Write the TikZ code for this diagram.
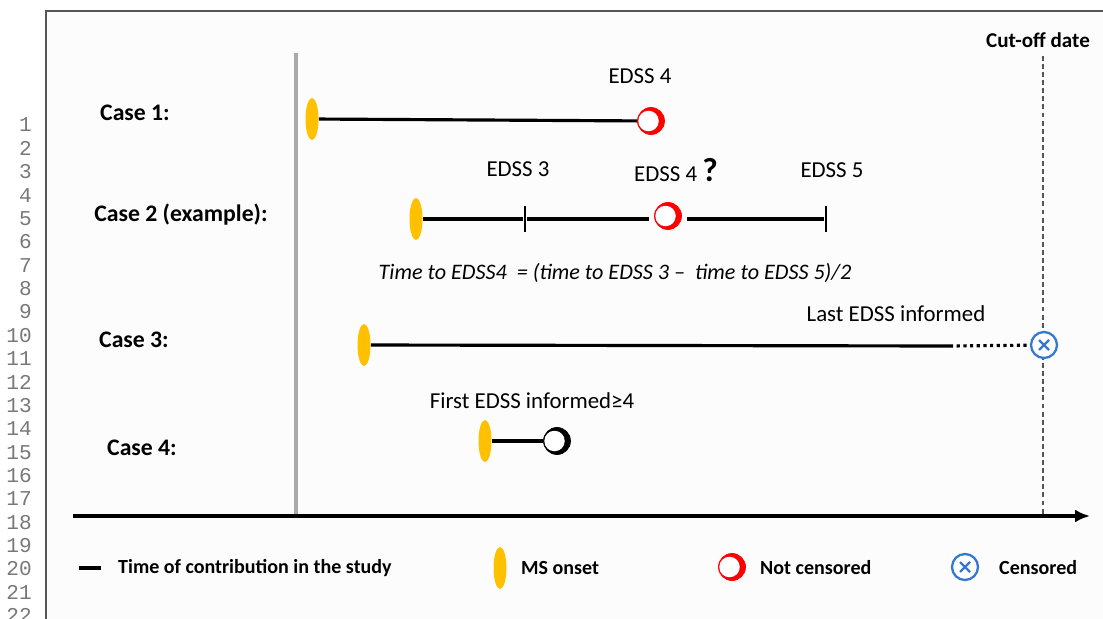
\documentclass[tikz,border=0pt]{standalone}
\usepackage{fontspec}
\setmainfont{Carlito}
\newfontfamily\numfont{Liberation Mono}
\usetikzlibrary{arrows.meta, positioning, shapes.geometric}
\definecolor{onsetyellow}{RGB}{255,192,0}
\definecolor{censblue}{RGB}{52,120,210}
\definecolor{framegray}{RGB}{85,85,85}
\definecolor{studygray}{RGB}{170,170,170}
\definecolor{numgray}{RGB}{120,120,120}

\tikzset{
  onset/.style={ellipse, fill=onsetyellow, minimum width=0.26cm, minimum height=0.84cm, inner sep=0pt},
  endpt/.style={circle, draw=#1, line width=0.45pt, minimum size=0.54cm, inner sep=0pt,
    path picture={\fill[#1] (path picture bounding box.center) circle (0.27cm);
      \fill[white] ([xshift=-0.05cm]path picture bounding box.center) circle (0.205cm);}},
  cens/.style={circle, draw=censblue, line width=1.3pt, minimum size=0.52cm, inner sep=0pt, fill=white,
    path picture={\draw[censblue, line width=1.3pt]
      ([shift={(-0.1cm,-0.1cm)}]path picture bounding box.center) -- ([shift={(0.1cm,0.1cm)}]path picture bounding box.center)
      ([shift={(-0.1cm,0.1cm)}]path picture bounding box.center) -- ([shift={(0.1cm,-0.1cm)}]path picture bounding box.center);}},
  tick/.style={rectangle, fill=black, minimum width=1.5pt, minimum height=0.52cm, inner sep=0pt},
  life/.style={line width=1.8pt},
  lbl/.style={font=\fontsize{13}{15}\selectfont},
  caselbl/.style={font=\fontsize{13.5}{16}\selectfont\bfseries},
  legtxt/.style={font=\fontsize{11.4}{14}\selectfont\bfseries, anchor=west},
  numlbl/.style={font=\numfont\fontsize{12}{14}\selectfont, text=numgray, anchor=east}
}

\begin{document}
\begin{tikzpicture}[x=0.02cm, y=-0.02cm]
  \useasboundingbox (0,0) rectangle (1103,619);
  \fill[white!99!black] (46,11) rectangle (1103,619);
  \draw[framegray, line width=1.2pt] (46,640) -- (46,11) -- (1120,11);
  \foreach \n in {1,...,22} {
    \node[numlbl] (ln\n) at (38, {125+(\n-1)*23.37}) {\n};
  }

  % study start and cut-off
  \coordinate (st0) at (296,53);
  \coordinate (st1) at (296,516);
  \draw[studygray, line width=2pt] (st0) -- (st1);
  \node[caselbl, font=\fontsize{12}{14}\selectfont\bfseries] (cut) at (1038,40) {Cut-off date};
  \coordinate (cut0) at (1043,56);
  \coordinate (cut1) at (1043,516);
  \draw[framegray, line width=0.8pt, dash pattern=on 2.8pt off 1.8pt] (cut0) -- (cut1);

  % case 1
  \node[caselbl] (c1) at (135,113) {Case 1:};
  \node[onset] (o1) at (312,119) {};
  \node[endpt=red] (n1) at (651,121) {};
  \draw[life] (o1) -- (n1);
  \node[lbl] (l1) at (640,76) {EDSS 4};

  % case 2
  \node[caselbl] (c2) at (181,215) {Case 2 (example):};
  \node[onset] (o2) at (416,219) {};
  \node[tick] (t3) at (525,219) {};
  \node[endpt=red] (n2) at (668,216) {};
  \node[tick] (t5) at (826,219) {};
  \draw[life] (o2) -- (t3);
  \draw[life, shorten >=0.1cm] (t3) -- (n2.west |- t3);
  \draw[life, shorten <=0.1cm] (n2.east |- t5) -- (t5);
  \node[lbl] (l3) at (518,169) {EDSS 3};
  \node[lbl] (l4) at (676,170) {EDSS 4 {\fontsize{19}{20}\selectfont\bfseries ?}};
  \node[lbl] (l5) at (832,170) {EDSS 5};
  \node[lbl, font=\fontsize{12.6}{15}\selectfont\itshape] (frm) at (615,273)
    {Time to EDSS4~ = (time to EDSS 3 –~ time to EDSS 5)/2};

  % case 3
  \node[caselbl] (c3) at (134,340) {Case 3:};
  \node[onset] (o3) at (364,345) {};
  \coordinate (s3) at (950,346);
  \node[cens] (x3) at (1044,345) {};
  \draw[life] (o3) -- (s3);
  \draw[life, dotted] (s3) -- (x3);
  \node[lbl] (l6) at (896,314) {Last EDSS informed};

  % case 4
  \node[caselbl] (c4) at (142,448) {Case 4:};
  \node[onset] (o4) at (485,441) {};
  \node[endpt=black] (b4) at (557,441) {};
  \draw[life] (o4) -- (b4);
  \node[lbl] (l7) at (532,401) {First EDSS informed≥4};

  % time axis
  \coordinate (ax0) at (73,516);
  \coordinate (ax1) at (1090,516);
  \draw[line width=2pt, -{Latex[length=0.3cm, width=0.26cm]}] (ax0) -- (ax1);

  % legend
  \coordinate (lg0) at (79,568);
  \coordinate (lg1) at (101,568);
  \draw[life] (lg0) -- (lg1);
  \node[legtxt] (lgt1) at (112,568) {Time of contribution in the study};
  \node[onset] (lgo) at (500,568) {};
  \node[legtxt] (lgt2) at (515,568) {MS onset};
  \node[endpt=red] (lgn) at (732,567) {};
  \node[legtxt] (lgt3) at (754,568) {Not censored};
  \node[cens] (lgx) at (965,567) {};
  \node[legtxt] (lgt4) at (993,568) {Censored};
\end{tikzpicture}
\end{document}
